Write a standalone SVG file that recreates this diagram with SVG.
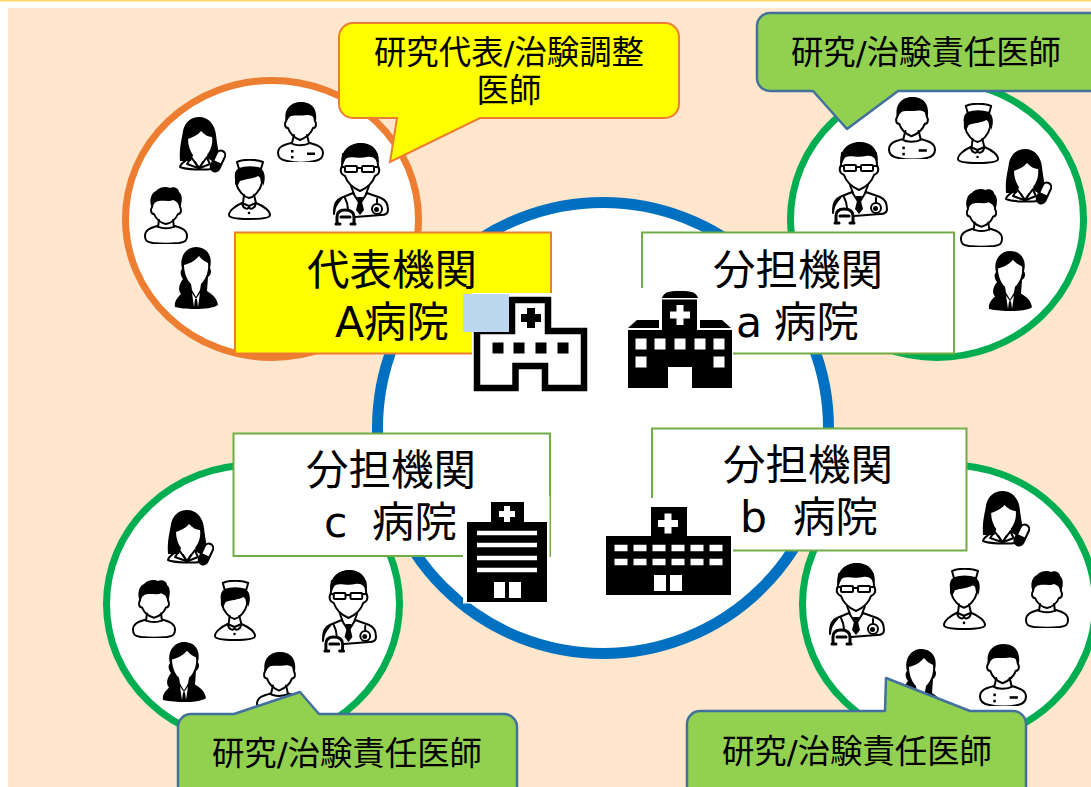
<svg xmlns="http://www.w3.org/2000/svg" xmlns:xlink="http://www.w3.org/1999/xlink" width="1091" height="787" viewBox="0 0 1091 787">
<style>
text{font-family:"DejaVu Sans","Noto Sans CJK JP",sans-serif;fill:#000;text-anchor:middle}
.big{font-size:42.500px}
.call{font-size:32.400px}
.lead{fill:#fff;stroke-width:7}
.site{fill:#fff;stroke:#00AD50;stroke-width:7}
.box{fill:#fff;stroke:#70AD47;stroke-width:2}
.rep{fill:#FFFF00;stroke:#ED7D31;stroke-width:2}
.green{fill:#92D050;stroke:#41719C;stroke-width:2.5;stroke-linejoin:round}
.ln{fill:none;stroke:#000;stroke-width:2;stroke-linecap:round;stroke-linejoin:round}
.wh{fill:#fff;stroke:#000;stroke-width:2;stroke-linejoin:round}
.k{fill:#000}
.w{fill:#fff}
</style>
<defs>
<symbol id="doctor" viewBox="0 0 58 84" preserveAspectRatio="none">
<path class="wh" d="M3,72C3,62 5,58 10,56L22,51L29,62L36,51L50,56C55,58 57,62 57,68C57,72 54,73 50,73L24,75"/>
<path class="wh" d="M11,24C8,30 11,33 14,34C16,40 22,46 29,49C36,46 42,40 44,34C47,33 50,30 47,24L46,12H12Z"/>
<path class="ln" d="M20,44L23,52M38,44L35,52"/>
<path class="k" d="M11,24C8,10 18,1 29,1C42,1 50,9 47,24C46,17 42,14 36,15C28,17 20,14 16,16C13,18 13,22 11,24Z"/>
<rect class="wh" x="14" y="24" width="12" height="6" rx="1"/><rect class="wh" x="31" y="24" width="12" height="6" rx="1"/>
<path class="ln" d="M11,25H14M26,26H31M43,25H47"/>
<path class="k" d="M26,55H32L31,60L33,68L29,73L25,68L27,60Z"/>
<path class="ln" d="M10,57C6,61 3,66 3,72M14,56C16,60 17,63 17,67M46,57V62"/>
<path class="ln" style="stroke-width:3" d="M6,82V75C6,70 9,68 14,68C20,68 23,70 23,75V82M5,82H9M20,82H24M10,75H19"/>
<circle cx="46" cy="67" r="5" class="wh"/><circle cx="45.500" cy="67.500" r="2.500" class="k"/>
</symbol>
<symbol id="staff" viewBox="0 0 47 60" preserveAspectRatio="none">
<path class="wh" d="M14,41C6,43 1,45 1,51C1,56 4,58 10,59C18,61 30,61 38,59C43,58 46,56 46,51C46,45 40,43 33,41C28,44 18,44 14,41Z"/>
<path class="wh" d="M9,19C7,22 8,26 11,26C13,32 18,36 23,38C28,36 34,32 36,26C39,26 40,22 38,19L36,9H12Z"/>
<path class="ln" d="M17,33L15,41M30,33L32,41"/>
<path class="k" d="M9,20C6,7 14,0 24,0C34,0 41,6 39,20C38,15 35,13 30,13C24,14 18,13 14,14C11,16 11,18 9,20Z"/>
<rect class="k" x="14" y="48" width="2.500" height="2.500"/><rect class="k" x="14" y="54" width="2.500" height="2.500"/><rect class="k" x="30" y="50.500" width="8" height="2.500"/>
</symbol>
<symbol id="man" viewBox="0 0 44 58" preserveAspectRatio="none">
<path class="wh" d="M13,40C6,42 1,44 1,50C1,55 3,56 9,57C17,58 27,58 35,57C41,56 43,55 43,50C43,44 38,42 31,40C27,43 17,43 13,40Z"/>
<path class="wh" d="M8,21C6,24 7,28 10,28C12,33 17,37 22,38C27,37 32,33 34,28C37,28 38,24 36,21L34,9H10Z"/>
<path class="ln" d="M15,34L14,41M29,34L30,41"/>
<path class="k" d="M8,22C4,14 8,6 12,5C15,1 22,0 26,2C29,0 35,2 35,6C38,8 39,14 36,22C35,17 32,15 29,14C25,16 19,14 15,15C12,15 9,18 8,22Z"/>
</symbol>
<symbol id="nurse" viewBox="0 0 43 61" preserveAspectRatio="none">
<path class="wh" d="M14,44C7,47 1,52 1,56C1,59 10,60 21,60C32,60 42,59 42,56C42,52 36,47 28,44L21,47Z"/>
<path class="ln" d="M14,44C15,50 20,51 21,48C22,51 27,50 28,44"/>
<circle class="k" cx="21" cy="54" r="1.300"/>
<path class="wh" d="M8,24C10,32 16,38 21,39C26,38 32,32 34,24L32,10H11Z"/>
<path class="ln" d="M16,36L15,44M26,36L28,44"/>
<path class="k" d="M7,20C6,13 9,9 12,10C18,8 26,8 33,10C37,12 38,20 35,27C35,22 33,19 30,17C25,20 17,20 12,22C11,24 10,26 9,28C7,26 7,23 7,20Z"/>
<path class="wh" d="M9,3C15,0 28,0 35,3L33,10C26,8 17,8 11,10Z"/>
</symbol>
<symbol id="pharmacist" viewBox="0 0 47 56" preserveAspectRatio="none">
<path class="wh" d="M1,50C1,46 8,43 12,40L20,51L28,40C32,42 36,44 38,47L34,52C24,53 8,53 1,50Z"/>
<path class="ln" d="M12,41L8,47L19,51M28,41L31,47L21,51M16,45L19,50M24,45L21,50"/>
<path class="k" d="M20,0C30,0 36,8 37,18C38,28 40,34 40,42L30,42L28,38C32,33 34,26 33,20C28,20 24,16 22,14C19,18 14,20 9,22C9,28 11,34 14,38L12,44L1,44C0,30 3,22 4,14C6,5 12,0 20,0Z"/>
<g transform="rotate(25 39 44)"><rect x="34.500" y="33" width="9" height="22" rx="4.500" class="wh"/><path class="k" d="M34.500,45H43.500V50.500A4.500,4.500 0 0 1 34.500,50.500Z"/></g>
</symbol>
<symbol id="clerk" viewBox="0 0 44 62" preserveAspectRatio="none">
<path class="k" d="M1,60C0,54 4,50 7,47C3,42 6,36 9,32C6,28 6,24 8,22C5,10 12,0 22,0C33,0 39,9 36,21C38,24 37,28 34,30L33,44C38,47 43,51 44,58C40,61 30,62 21,62C12,62 5,61 1,60Z"/>
<path class="w" d="M10,18C14,17 20,15 25,9C28,13 32,15 34,16C35,24 32,32 27,37L26,43L22,50L18,43L17,37C12,32 10,24 10,18Z"/>
<path d="M18,46L22,52L26,46L24,60H20Z" class="w"/>
<path class="k" d="M21,52H23L24,60H20Z"/>
</symbol>
</defs>

<rect width="1091" height="787" fill="#fff"/>
<rect width="1091" height="1.500" fill="#FFD966"/>
<rect x="8" y="8" width="1083" height="779" fill="#FFE6CC"/>

<g id="central-ring"><circle cx="603" cy="428" r="225.500" fill="#fff" stroke="#0070C0" stroke-width="11"/></g>

<g id="team-a">
<ellipse cx="272" cy="219" rx="146.500" ry="138.500" class="lead" stroke="#ED7D31"/>
<use href="#doctor" x="331" y="142" width="58" height="84"/>
<use href="#nurse" x="228" y="159" width="43" height="61"/>
<use href="#staff" x="277" y="102" width="47" height="60"/>
<use href="#man" x="144" y="186" width="44" height="58"/>
<use href="#pharmacist" x="179" y="117" width="47" height="56"/>
<use href="#clerk" x="174" y="247" width="44" height="62"/>
</g>
<g id="team-a-branch">
<ellipse cx="937" cy="219" rx="146.500" ry="138.500" class="site"/>
<use href="#doctor" x="830" y="141" width="58" height="84"/>
<use href="#staff" x="888" y="97" width="48" height="62"/>
<use href="#nurse" x="957" y="103" width="42" height="61"/>
<use href="#pharmacist" x="1005" y="149" width="47" height="56"/>
<use href="#man" x="960" y="188" width="43" height="59"/>
<use href="#clerk" x="988" y="251" width="44" height="60"/>
</g>
<g id="team-c">
<ellipse cx="253" cy="604" rx="146.500" ry="139" class="site"/>
<use href="#pharmacist" x="167" y="510" width="47" height="56"/>
<use href="#man" x="132" y="579" width="44" height="59"/>
<use href="#nurse" x="214" y="580" width="42" height="61"/>
<use href="#doctor" x="320" y="569" width="57" height="84"/>
<use href="#clerk" x="162" y="642" width="44" height="60"/>
<use href="#staff" x="256" y="652" width="47" height="61"/>
</g>
<g id="team-b">
<ellipse cx="949" cy="604" rx="146.500" ry="139" class="site"/>
<use href="#pharmacist" x="982" y="491" width="48" height="56"/>
<use href="#doctor" x="827" y="562" width="58" height="84"/>
<use href="#nurse" x="943" y="568" width="43" height="62"/>
<use href="#man" x="1025" y="570" width="44" height="58"/>
<use href="#clerk" x="899" y="649" width="44" height="62"/>
<use href="#staff" x="979" y="644" width="48" height="62"/>
</g>

<g id="box-a">
<rect x="235" y="232.500" width="316" height="121" class="rep"/>
<text class="big" x="392" y="285">代表機関</text>
<text class="big" x="392" y="337">A病院</text>
</g>
<g id="box-a-branch">
<rect x="642" y="232.500" width="312" height="121" class="box"/>
<text class="big" x="798" y="285">分担機関</text>
<text class="big" x="736" y="337" style="text-anchor:start">a <tspan x="774">病院</tspan></text>
</g>
<g id="box-c">
<rect x="233.500" y="433.500" width="316.500" height="122.500" class="box"/>
<text class="big" x="391" y="485">分担機関</text>
<text class="big" x="324" y="537" style="text-anchor:start">c <tspan x="372">病院</tspan></text>
</g>
<g id="box-b">
<rect x="652" y="428.500" width="314.500" height="122" class="box"/>
<text class="big" x="808" y="480">分担機関</text>
<text class="big" x="740" y="532" style="text-anchor:start">b <tspan x="793">病院</tspan></text>
</g>

<g id="hospital-a">
<rect x="472" y="293" width="118" height="100" class="w"/>
<path d="M477,388H515.500V366H545V388H584V331H548V300H512V331H477Z" fill="#fff" stroke="#000" stroke-width="6.500"/>
<path class="k" d="M527,308H535V314H541V322H535V328H527V322H521V314H527Z"/>
<path class="k" d="M492.500,342.500h11v11h-11zM513.500,342.500h11v11h-11zM535.500,342.500h11v11h-11zM557.500,342.500h11v11h-11z"/>
<rect x="463" y="294" width="46" height="38" fill="#BDD7EE"/>
</g>
<g id="hospital-a-branch">
<rect x="625" y="288" width="108" height="100" class="w"/>
<path class="k" d="M662,298C664,292 668,291 680,291C692,291 696,292 698,298Z"/>
<path class="k" d="M628,328L637,320H659V328ZM700,328V320H722L731,328Z"/>
<path class="k" d="M662,299.500H697V330H732V388H692V367H668V388H628V330H662Z"/>
<path class="w" d="M676.500,305H683.500V311.500H690V318.500H683.500V325H676.500V318.500H670V311.500H676.500Z"/>
<path class="w" d="M635.500,338.500h11v11h-11zM654.500,338.500h11v11h-11zM674.500,338.500h11v11h-11zM694.500,338.500h11v11h-11zM713.500,338.500h11v11h-11zM635.500,356.500h11v11h-11zM713.500,356.500h11v11h-11z"/>
</g>
<g id="hospital-c">
<rect x="463" y="496" width="86.500" height="107.500" class="w"/>
<path class="k" d="M491,502H524V522H547V602H467V522H491Z"/>
<path class="w" d="M504,506H510V511H515V517H510V522H504V517H499V511H504Z"/>
<path class="w" d="M477,530.800h60v4.500h-60zM477,542.800h60v4.500h-60zM477,555.800h60v4.500h-60zM477,567.800h60v4.500h-60zM494,582h11v16h-11zM509,582h12v16h-12z"/>
</g>
<g id="hospital-b">
<rect x="600" y="498" width="133" height="98" class="w"/>
<path class="k" d="M651,507H687V536H731V595H606V536H651Z"/>
<path class="w" d="M664.500,513.500H671.500V520H678V527H671.500V533.500H664.500V527H658V520H664.500Z"/>
<path class="w" d="M614.500,544.800h13v6.500h-13zM633.500,544.800h13v6.500h-13zM652.500,544.800h13v6.500h-13zM671.500,544.800h13v6.500h-13zM690.500,544.800h13v6.500h-13zM709.500,544.800h13v6.500h-13zM614.500,558.800h13v6.500h-13zM633.500,558.800h13v6.500h-13zM652.500,558.800h13v6.500h-13zM671.500,558.800h13v6.500h-13zM690.500,558.800h13v6.500h-13zM709.500,558.800h13v6.500h-13zM654,575h12v16h-12zM670,575h12v16h-12z"/>
</g>

<g id="callout-lead">
<path d="M353,23H665A14,14 0 0 1 679,37V104A14,14 0 0 1 665,118H480L390,162L397,118H353A14,14 0 0 1 339,104V37A14,14 0 0 1 353,23Z" fill="#FFFF00" stroke="#ED7D31" stroke-width="2"/>
<text class="call" x="509" y="64">研究代表/治験調整</text>
<text class="call" x="509" y="102">医師</text>
</g>
<g id="callout-a-branch">
<path d="M770,13H1100V91H898L847,129L813,91H770A13,13 0 0 1 757,78V26A13,13 0 0 1 770,13Z" class="green"/>
<text class="call" x="926" y="64">研究/治験責任医師</text>
</g>
<g id="callout-c">
<path d="M191,714H234L300,692L319,714H504A13,13 0 0 1 517,727V800H178V727A13,13 0 0 1 191,714Z" class="green"/>
<text class="call" x="347" y="765">研究/治験責任医師</text>
</g>
<g id="callout-b">
<path d="M700,711H885L886,678L970,711H1013A13,13 0 0 1 1026,724V800H687V724A13,13 0 0 1 700,711Z" class="green"/>
<text class="call" x="857" y="763">研究/治験責任医師</text>
</g>
</svg>
